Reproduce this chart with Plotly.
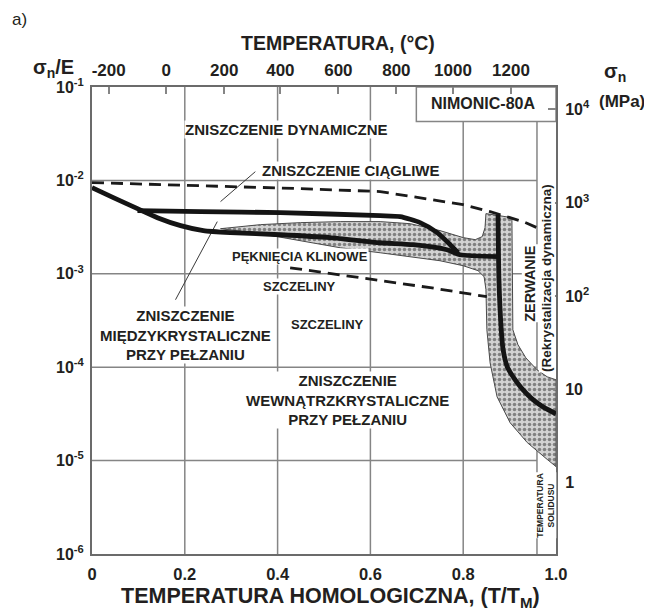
import numpy as np
import plotly.graph_objects as go

FONT = "Liberation Sans, Arial, sans-serif"
INK = "#231f20"
GRID = "#858585"
FRAME = "#6b6b6b"

# ---------------- axes / tick data ----------------
H_TICKS = [0, 0.2, 0.4, 0.6, 0.8, 1.0]
H_TICK_TEXT = ["0", "0.2", "0.4", "0.6", "0.8", "1.0"]
SE_TICKS = [1e-6, 1e-5, 1e-4, 1e-3, 1e-2, 1e-1]
SE_TICK_TEXT = ["10<sup>-6</sup>", "10<sup>-5</sup>", "10<sup>-4</sup>",
                "10<sup>-3</sup>", "10<sup>-2</sup>", "10<sup>-1</sup>"]
TEMP_C_LABELS = ["-200", "0", "200", "400", "600", "800", "1000", "1200"]
TEMP_C_H = [0.036, 0.160, 0.285, 0.406, 0.531, 0.656, 0.778, 0.903]
E_MPA = 1.73e5
SIGMA_TICKS = [1, 10, 100, 1000, 10000]
SIGMA_TICK_TEXT = ["1", "10", "10<sup>2</sup>", "10<sup>3</sup>", "10<sup>4</sup>"]
SOLIDUS_H = 0.959
BOX_LEFT_H = 0.699
BOX_BOTTOM_SE = 4.27e-2

# grid
GRID_H = [0.2, 0.4, 0.6, 0.8]
GRID_SE = [1e-5, 1e-4, 1e-3, 1e-2]

# ---------------- field boundaries (T/TM, sigma_n/E) ----------------
DUCTILE_H = [0, 0.234, 0.449, 0.621, 0.707, 0.800, 0.858, 0.929, 0.959]
DUCTILE_SE = [9.47e-3, 8.80e-3, 8.17e-3, 7.59e-3, 6.54e-3, 5.50e-3, 4.63e-3, 3.62e-3, 3.12e-3]

WEDGE_H = [0.427, 0.621, 0.729, 0.851]
WEDGE_SE = [1.16e-3, 8.43e-4, 7.10e-4, 5.68e-4]

LOWER_H = [0, 0.046, 0.098, 0.141, 0.191, 0.240, 0.298, 0.406, 0.513, 0.621, 0.692, 0.765, 0.793, 0.875]
LOWER_SE = [8.37e-3, 6.54e-3, 4.98e-3, 3.99e-3, 3.28e-3, 2.90e-3, 2.76e-3, 2.62e-3,
            2.44e-3, 2.15e-3, 2.05e-3, 1.81e-3, 1.60e-3, 1.53e-3]

UPPER_H = [0.098, 0.234, 0.406, 0.621, 0.664, 0.707, 0.744, 0.772, 0.789]
UPPER_SE = [4.75e-3, 4.63e-3, 4.52e-3, 4.19e-3, 4.09e-3, 3.53e-3, 2.76e-3, 2.05e-3, 1.68e-3]

RUPT_H = [0.875, 0.877, 0.882, 0.886, 0.895, 0.912, 0.929, 0.951, 0.972, 1.0]
RUPT_SE = [4.30e-3, 8.65e-4, 2.52e-4, 1.54e-4, 1.01e-4, 7.33e-5, 5.73e-5, 4.47e-5, 3.76e-5, 3.17e-5]

BAND_H = [0.277, 0.363, 0.449, 0.535, 0.621, 0.686, 0.750, 0.800, 0.826, 0.841, 0.847, 0.849,
          0.905, 0.907, 0.907, 0.918, 0.935, 0.959, 0.981, 1.000, 1.000, 0.981, 0.938, 0.901,
          0.873, 0.858, 0.851, 0.849, 0.845, 0.832, 0.800, 0.750, 0.686, 0.621, 0.535, 0.449,
          0.363, 0.277]
BAND_SE = [3.04e-3, 3.36e-3, 3.53e-3, 3.62e-3, 3.62e-3, 3.44e-3, 2.90e-3, 2.44e-3, 2.32e-3,
           2.50e-3, 3.12e-3, 4.41e-3, 3.99e-3, 5.28e-4, 2.52e-4, 1.74e-4, 1.26e-4, 9.38e-5,
           7.89e-5, 7.33e-5, 8.63e-6, 1.03e-5, 1.56e-5, 2.55e-5, 4.82e-5, 1.11e-4, 2.52e-4,
           6.76e-4, 9.31e-4, 1.08e-3, 1.22e-3, 1.38e-3, 1.53e-3, 1.68e-3, 1.90e-3, 2.26e-3,
           2.69e-3, 3.04e-3]

LEADER1_H = [0.352, 0.277]
LEADER1_SE = [1.24e-2, 5.93e-3]
LEADER2_H = [0.180, 0.270]
LEADER2_SE = [5.28e-4, 3.62e-3]

LABELS = [
    ("ZNISZCZENIE DYNAMICZNE", 0.419, 3.50e-2, 15, 0, True),
    ("ZNISZCZENIE CIĄGLIWE", 0.559, 1.27e-2, 15, 0, True),
    ("PĘKNIĘCIA KLINOWE", 0.448, 1.53e-3, 13, 0, True),
    ("SZCZELINY", 0.447, 7.28e-4, 13, 0, True),
    ("SZCZELINY", 0.508, 2.85e-4, 13, 0, True),
    ("ZNISZCZENIE<br>MIĘDZYKRYSTALICZNE<br>PRZY PEŁZANIU", 0.201, 2.22e-4, 15, 0, True),
    ("ZNISZCZENIE<br>WEWNĄTRZKRYSTALICZNE<br>PRZY PEŁZANIU", 0.550, 4.48e-5, 15, 0, True),
    ("ZERWANIE", 0.944, 7.83e-4, 14.5, -90, True),
    ("(Rekrystalizacja dynamiczna)", 0.981, 9.08e-4, 13.5, -90, True),
    ("TEMPERATURA<br>SOLIDUSU", 0.978, 3.35e-6, 8.5, -90, True),
]

fig = go.Figure()

gx, gy = [], []
for h in GRID_H:
    gx += [h, h, None]
    gy += [1e-6, BOX_BOTTOM_SE if h > BOX_LEFT_H else 1e-1, None]
for s in GRID_SE:
    gx += [0, SOLIDUS_H, None]
    gy += [s, s, None]
gx += [SOLIDUS_H, SOLIDUS_H]
gy += [1e-6, BOX_BOTTOM_SE]
fig.add_trace(go.Scatter(x=gx, y=gy, mode="lines", line=dict(color=GRID, width=1.5),
                         hoverinfo="skip"))

fig.add_trace(go.Scatter(
    x=BAND_H, y=BAND_SE, mode="lines", fill="toself",
    line=dict(color="#4a4a4a", width=1),
    fillcolor="#c8c8c8",
    fillpattern=dict(shape=".", fgcolor="#2e2e2e", bgcolor="#d2d2d2", size=5, solidity=0.4),
    hoverinfo="skip"))

for hx, sy in [(LEADER1_H, LEADER1_SE), (LEADER2_H, LEADER2_SE)]:
    fig.add_trace(go.Scatter(x=hx, y=sy, mode="lines",
                             line=dict(color="#3a3a3a", width=1), hoverinfo="skip"))

for hx, sy in [(DUCTILE_H, DUCTILE_SE), (WEDGE_H, WEDGE_SE)]:
    fig.add_trace(go.Scatter(x=hx, y=sy, mode="lines",
                             line=dict(color="#1a1a1a", width=2.8, dash="12px,7px"),
                             hoverinfo="skip"))

for hx, sy in [(LOWER_H, LOWER_SE), (UPPER_H, UPPER_SE), (RUPT_H, RUPT_SE)]:
    fig.add_trace(go.Scatter(x=hx, y=sy, mode="lines",
                             line=dict(color="#141414", width=4.8, shape="spline", smoothing=0.6),
                             hoverinfo="skip"))

fig.add_trace(go.Scatter(x=[0.5], y=[10], xaxis="x2", yaxis="y2", mode="markers",
                         marker=dict(opacity=0), hoverinfo="skip"))

tick_font = dict(family=FONT, size=16, color=INK, weight="bold")

# the page body adds an 8 px offset, so the figure is 8 px smaller than the window
fig.update_layout(
    width=644, height=604,
    margin=dict(l=84, r=96, t=79, b=58, autoexpand=False),
    paper_bgcolor="white", plot_bgcolor="white", showlegend=False,
    xaxis=dict(range=[0, 1], tickvals=H_TICKS, ticktext=H_TICK_TEXT, tickfont=dict(tick_font, size=16.5),
               showgrid=False, zeroline=False,
               showline=True, linecolor=FRAME, linewidth=2, ticks="", ticklabelstandoff=4),
    xaxis2=dict(range=[0, 1], overlaying="x", side="top", tickvals=TEMP_C_H, ticktext=TEMP_C_LABELS,
                tickfont=dict(tick_font, size=17), showgrid=False, zeroline=False,
                showline=True, linecolor=FRAME, linewidth=2,
                ticks="inside", ticklen=7, tickwidth=1.5, tickcolor=GRID, ticklabelstandoff=2),
    yaxis=dict(type="log", range=[-6, -1], tickvals=SE_TICKS, ticktext=SE_TICK_TEXT, tickfont=tick_font,
               showgrid=False, zeroline=False,
               showline=True, linecolor=FRAME, linewidth=2, ticks="", ticklabelstandoff=3),
    yaxis2=dict(type="log", overlaying="y", side="right",
                range=[np.log10(1e-6 * E_MPA), np.log10(1e-1 * E_MPA)],
                tickvals=SIGMA_TICKS, ticktext=SIGMA_TICK_TEXT, tickfont=tick_font,
                showgrid=False, zeroline=False, showline=True, linecolor=FRAME, linewidth=2,
                ticks="inside", ticklen=8, tickwidth=1.5, tickcolor=GRID, ticklabelstandoff=4),
)

fig.add_shape(type="rect", xref="x", yref="y", x0=BOX_LEFT_H, x1=1, y0=BOX_BOTTOM_SE, y1=1e-1,
              fillcolor="white", line=dict(color=GRID, width=1.5), layer="below")

for text, hx, se, size, ang, bold in LABELS:
    fig.add_annotation(x=hx, y=np.log10(se), xref="x", yref="y", text=text, showarrow=False,
                       textangle=ang, bgcolor="white", borderpad=0,
                       xanchor="center", yanchor="middle",
                       font=dict(family=FONT, size=size, color=INK,
                                 weight="bold" if bold else "normal"))


def paper_text(x, y, text, size, bold=True, xanchor="center"):
    fig.add_annotation(x=x, y=y, xref="paper", yref="paper", text=text, showarrow=False,
                       xanchor=xanchor, yanchor="middle",
                       font=dict(family=FONT, size=size, color=INK,
                                 weight="bold" if bold else "normal"))


paper_text(0.843, 0.9636, "NIMONIC-80A", 16)
paper_text(-0.177, 1.1435, "a)", 17, bold=False, xanchor="left")
paper_text(0.530, 1.094, "TEMPERATURA, (°C)", 19.5)
paper_text(-0.083, 1.040, "σ<sub>n</sub>/E", 20)
paper_text(1.127, 1.032, "σ<sub>n</sub>", 20)
paper_text(1.142, 0.968, "(MPa)", 17)
paper_text(0.513, -0.094, "TEMPERATURA HOMOLOGICZNA, (T/T<sub>M</sub>)", 21.5)

fig.write_html("out.html")
